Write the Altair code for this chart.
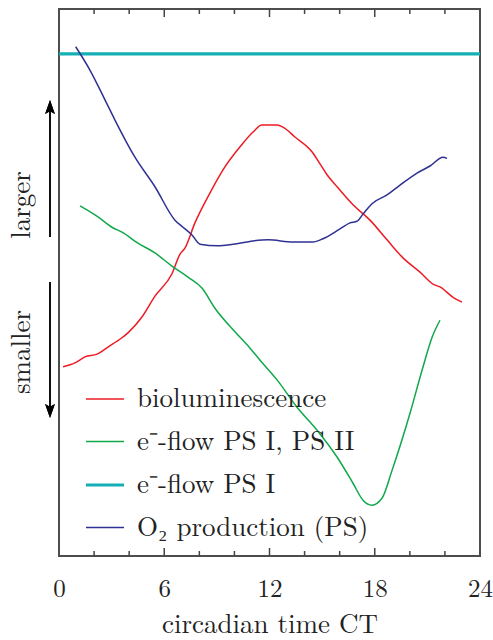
import altair as alt
import pandas as pd

# ---- data (x = circadian time CT, y = relative level 0..100) ----
bio_t = [0.23, 0.91, 1.48, 2.17, 2.79, 3.59, 3.93, 4.73, 5.47, 6.44, 6.90, 7.18, 7.75, 8.61, 9.35,
         10.32, 11.06, 11.57, 12.43, 12.77, 13.45, 14.42, 14.88, 15.28, 15.85, 16.76, 17.73, 18.70,
         19.61, 20.58, 21.32, 21.72, 22.46, 22.98]
bio_v = [34.6, 35.3, 36.4, 36.9, 38.2, 39.9, 40.8, 43.7, 47.5, 51.6, 55.2, 56.3, 60.9, 66.4, 70.6,
         74.8, 77.5, 78.8, 78.8, 78.4, 76.6, 73.9, 71.7, 69.7, 67.5, 64.2, 61.4, 57.8,
         54.5, 51.9, 49.7, 49.2, 47.3, 46.4]

eflow12_t = [1.20, 2.22, 3.02, 3.59, 4.50, 5.47, 6.44, 7.35, 8.15, 8.89, 10.03, 10.89, 11.46, 12.43,
             13.57, 14.71, 15.85, 16.76, 17.33, 17.84, 18.42, 18.99, 20.01, 20.70, 21.27, 21.72]
eflow12_v = [64.0, 62.0, 60.1, 59.2, 57.2, 55.4, 53.0, 51.0, 49.0, 45.3, 41.0, 38.0, 35.8, 32.2,
             27.2, 23.0, 18.1, 13.3, 10.2, 9.3, 10.6, 15.7, 26.1, 34.0, 40.0, 43.1]

eflow1_t = [0.0, 24.0]
eflow1_v = [91.8, 91.8]

o2_t = [0.95, 1.77, 2.62, 3.19, 4.33, 5.47, 6.61, 7.07, 7.58, 8.04, 9.06, 9.92, 11.06, 11.92, 13.34,
        14.48, 15.05, 16.02, 16.59, 16.99, 17.33, 17.84, 18.70, 19.44, 20.41, 21.15, 21.89, 22.12]
o2_v = [93.1, 88.8, 83.4, 79.7, 72.9, 67.5, 61.4, 60.1, 58.7, 57.0, 56.7, 57.0, 57.6, 57.8, 57.4,
        57.4, 58.0, 59.8, 60.9, 61.2, 62.5, 64.4, 66.0, 67.8, 70.0, 71.3, 72.9, 72.7]

names = ["bioluminescence", "e\u207b-flow PS I, PS II", "e\u207b-flow PS I", "O\u2082 production (PS)"]
colors = ["#ec1c24", "#10a84a", "#14b0b5", "#2e3192"]
widths = [1.5, 1.5, 3.2, 1.5]

x_labels = [0, 6, 12, 18, 24]
minor_ticks = [2, 4, 8, 10, 14, 16, 20, 22]
major_ticks = [6, 12, 18]

# ---- build tables ----
rows = []
for name, ts, vs in zip(names, [bio_t, eflow12_t, eflow1_t, o2_t], [bio_v, eflow12_v, eflow1_v, o2_v]):
    for i, (t, v) in enumerate(zip(ts, vs)):
        rows.append({"series": name, "t": t, "v": v, "i": i})
df = pd.DataFrame(rows)

W, H = 421, 547
FONT = "Latin Modern Roman"

xscale = alt.Scale(domain=[0, 24], nice=False, zero=False)
yscale = alt.Scale(domain=[0, 100], nice=False, zero=False)
xaxis = alt.Axis(values=x_labels, title="circadian time CT", grid=False, ticks=False, domain=False,
                 tickSize=0, labelFlush=False, labelFont=FONT, labelFontSize=25, labelPadding=20,
                 labelColor="#222222",
                 titleFont=FONT, titleFontSize=27, titleFontWeight="normal", titleColor="#222222",
                 titlePadding=10)

leg = alt.Legend(title=None, orient="none", legendX=25, legendY=370, symbolType="stroke",
                 symbolSize=1444, labelFont=FONT, labelFontSize=27, labelColor="#222222",
                 labelLimit=600, rowPadding=9.5, labelOffset=11, padding=0)

lines = alt.Chart(df).mark_line(interpolate="monotone").encode(
    x=alt.X("t:Q", scale=xscale, axis=xaxis),
    y=alt.Y("v:Q", scale=yscale, axis=None),
    color=alt.Color("series:N", scale=alt.Scale(domain=names, range=colors), legend=leg),
    strokeWidth=alt.StrokeWidth("series:N", scale=alt.Scale(type="ordinal", domain=names, range=widths),
                                legend=leg),
    order="i:Q",
)

minor_df = pd.DataFrame({"t": minor_ticks})
major_df = pd.DataFrame({"t": major_ticks})


def tick_layer(d, length):
    top = alt.Chart(d).mark_rule(color="#444444", strokeWidth=1.5).encode(
        x=alt.X("t:Q", scale=xscale, axis=xaxis), y=alt.value(0), y2=alt.value(length))
    bot = alt.Chart(d).mark_rule(color="#444444", strokeWidth=1.5).encode(
        x=alt.X("t:Q", scale=xscale, axis=xaxis), y=alt.value(H), y2=alt.value(H - length))
    return top + bot


ticks = tick_layer(minor_df, 5) + tick_layer(major_df, 8)

# ---- "larger" / "smaller" annotation with arrows, left of the plot ----
ann_df = pd.DataFrame({"label": ["larger", "smaller"]})
larger_txt = alt.Chart(pd.DataFrame({"label": ["larger"]})).mark_text(
    font=FONT, fontSize=27, angle=270, align="center", baseline="middle", color="#222222"
).encode(text="label:N", x=alt.value(-37), y=alt.value(196))
smaller_txt = alt.Chart(pd.DataFrame({"label": ["smaller"]})).mark_text(
    font=FONT, fontSize=27, angle=270, align="center", baseline="middle", color="#222222"
).encode(text="label:N", x=alt.value(-37), y=alt.value(343))

up_shaft = alt.Chart(ann_df).mark_rule(color="black", strokeWidth=1.5).encode(
    x=alt.value(-9), y=alt.value(100), y2=alt.value(228))
down_shaft = alt.Chart(ann_df).mark_rule(color="black", strokeWidth=1.5).encode(
    x=alt.value(-9), y=alt.value(273), y2=alt.value(401))
up_head = alt.Chart(ann_df).mark_point(
    shape="M0,-1L-0.7,1L0,0.6L0.7,1Z", filled=True, color="black", opacity=1, size=196
).encode(x=alt.value(-9), y=alt.value(98))
down_head = alt.Chart(ann_df).mark_point(
    shape="M0,1L-0.7,-1L0,-0.6L0.7,-1Z", filled=True, color="black", opacity=1, size=196
).encode(x=alt.value(-9), y=alt.value(402))

chart = alt.layer(
    ticks, lines, larger_txt, smaller_txt, up_shaft, down_shaft, up_head, down_head
).properties(
    width=W, height=H,
    padding={"left": 59, "top": 9, "right": 13, "bottom": 84},
    autosize=alt.AutoSizeParams(type="none"),
    background="white",
).configure_view(
    stroke="#4d4d4d", strokeWidth=2
).configure_axis(grid=False)

chart.save("out.html", embed_options={"renderer": "svg", "actions": False})
